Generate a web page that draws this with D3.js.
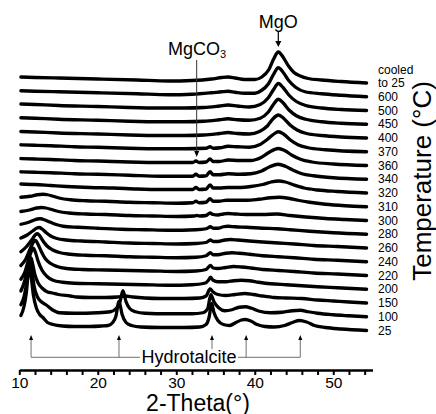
<!DOCTYPE html>
<html>
<head>
<meta charset="utf-8">
<script src="https://cdn.jsdelivr.net/npm/d3@7"></script>
<style>
  html, body { margin: 0; padding: 0; background: #fff; }
  svg { display: block; }
  text { font-family: "Liberation Sans", Arial, Helvetica, sans-serif; fill: #000; }
</style>
</head>
<body>
<svg id="chart" width="436" height="414"></svg>
<script>
// ---------- DATA ----------
// Temperature labels, bottom to top
const tempLabels = ["25","100","150","200","220","240","260","280","300","310","320","340","360","370","400","450","500","600","cooled to 25"];

// Each pattern: [2-theta, intensity above its own baseline (a.u.)]
const t25 = [[10.2,15],[10.6,24],[10.9,38],[11.15,58],[11.3,65.5],[11.5,55],[11.8,35],[12.2,22],[12.6,16],[13.0,13],[13.6,8],[14.3,6],[15.5,4.5],[17,4],[19,4],[20.5,4.5],[21.3,5],[21.9,8],[22.3,14],[22.7,29],[23.1,16],[23.6,8],[24.3,5],[25.5,3.5],[28,3],[31,3],[33,3.5],[33.8,6],[34.2,14],[34.5,27],[34.8,18],[35.3,10],[36.0,6],[36.8,5],[37.6,8],[38.3,10.5],[38.8,11],[39.5,9.5],[40.3,6],[41.3,4],[42.5,3.5],[43.8,5],[44.8,8],[45.7,10],[46.6,8.5],[47.6,5],[49,3],[51,1.5],[54.25,0]];
const t100 = [[10.2,12],[10.6,20],[10.95,35],[11.25,52],[11.4,55],[11.6,46],[11.9,30],[12.3,20],[12.8,15],[13.4,12],[14.2,7],[15.1,4],[17,3.5],[20,4],[21.6,5],[22.3,8],[22.8,14],[23.2,26],[23.6,15],[24.1,8],[24.8,5],[26,3.5],[29,3],[32,3],[33.4,4],[34.0,8],[34.4,22],[34.8,15],[35.4,9],[36.2,6],[37.1,7],[38,9.5],[38.8,10],[39.6,8.5],[40.6,5.5],[42,4],[43.5,4.5],[44.8,6],[45.8,6.5],[46.8,5],[48,3.5],[50,2],[52,1],[54.25,0]];
const t150 = [[10.2,12],[10.6,20],[11.0,32],[11.35,43],[11.5,45],[11.7,39],[12.0,28],[12.4,20],[12.9,15],[13.6,11],[14.2,10],[15,8.5],[16.5,7],[17.3,6],[19,5.5],[21,5.5],[22.5,6],[23.5,7],[24.5,6],[26,5],[28,4.5],[31,4.5],[33,5],[33.8,7],[34.3,14],[34.7,11],[35.3,8.5],[36.3,7.5],[37.5,8.5],[38.7,9.5],[39.8,8.5],[41,7],[42.5,5.5],[44,5],[46,4.5],[48,3],[50,2],[52,1],[54.25,0]];
const t200 = [[10.2,10],[10.7,17],[11.2,30],[11.6,39],[11.8,41],[12.05,37],[12.4,28],[12.9,19],[13.5,13],[14.3,9],[15.5,7],[17,6],[20,5.5],[23,5],[26,4.5],[29,4],[32,4.5],[33.6,6],[34.1,9],[34.35,12],[34.7,9],[35.3,7.5],[36.3,7.5],[37.3,8.5],[38.3,9],[39.3,8.5],[40.5,7],[42,5.5],[44,4.5],[46,3.5],[48,2.5],[50.5,1.5],[54.25,0]];
const t220 = [[10.2,10],[10.8,16],[11.4,27],[11.85,34],[12.1,35],[12.4,31],[12.8,24],[13.3,17],[14,12],[14.8,9],[16,7],[18,6],[21,5.5],[24,5],[27,4.5],[30,4],[32.5,4.5],[33.8,6],[34.35,10],[34.7,7.5],[35.3,7],[36.3,8],[37.3,9],[38.3,8.5],[39.5,7.5],[41,6],[43,5],[45,4],[47.5,2.5],[50.5,1.5],[54.25,0]];
const t240 = [[10.2,10],[10.9,15],[11.6,22],[12.05,27],[12.3,28],[12.6,26],[13.0,21],[13.5,16],[14.2,12],[15,9.5],[16.5,7.5],[18.5,6.5],[21,6],[24,5],[27,4.5],[30,4],[32.5,4.5],[33.8,6],[34.35,9],[34.7,7],[35.3,7],[36.3,8.5],[37.1,9],[38,8.5],[39.3,7.5],[41,6],[43,5],[45,4],[47.5,2.5],[50.5,1.5],[54.25,0]];
const t260 = [[10.2,10],[11,13],[11.7,17],[12.25,20],[12.55,20.5],[12.9,19],[13.4,15.5],[14,12],[14.8,9.5],[16,8],[18,7],[21,6],[24,5],[27,4.5],[30,4],[32.5,4.5],[33.8,5.5],[34.35,8],[34.7,6.5],[35.3,6.5],[36.2,8],[36.9,8.5],[37.8,8],[39.3,7],[41,6],[43,5],[45,4],[47.5,2.5],[50.5,1.5],[54.25,0]];
const t280 = [[10.2,10],[11.2,12],[12,14.5],[12.5,15.5],[12.75,15.5],[13.2,14.5],[13.8,12.5],[14.6,10],[15.6,8],[17.5,7],[20,6],[23,5],[26,4.5],[29,4],[32.5,4.5],[33.8,5.5],[34.35,7.5],[34.7,6],[35.3,6],[36.0,7.5],[36.6,8],[37.5,7.5],[39,7],[41,6],[42.8,5.5],[44.5,4.5],[47,3],[50,1.5],[54.25,0]];
const t300 = [[10.2,9],[11.3,10.5],[12.2,12.5],[12.85,13],[13.4,12.5],[14.1,11],[15,9],[16.3,7.5],[18.5,6.5],[21,6],[24,5],[27,4.5],[30,4],[32.3,4.5],[32.6,5],[33,4.5],[33.8,5],[34.3,7.5],[34.7,6],[35.3,5.5],[36,6.5],[36.6,7],[37.6,6.5],[39.2,6],[41,6],[42.8,6.5],[44.5,5],[46.5,3.5],[49,2],[51.5,1],[54.25,0]];
const t310 = [[10.2,9.5],[11.4,10.5],[12.3,12],[13.0,12.5],[13.6,12],[14.3,10.5],[15.2,8.5],[16.5,7],[18.5,6],[21,5.5],[24,4.5],[27,4],[30,3.5],[32.1,4],[32.5,5.5],[32.9,4],[33.8,4.5],[34.3,8],[34.7,5.5],[35.4,5.5],[36.4,6.5],[37.5,6.5],[39,6.5],[40.5,7.5],[42,9],[43.1,9.5],[44.3,8.5],[45.5,6.5],[47,4.5],[49,2.5],[51.5,1],[54.25,0]];
const t320 = [[10.2,9],[12,8.5],[14,7.5],[16,6.5],[19,5.5],[22,5],[25,4],[28,3.5],[31,3.5],[32.1,3.5],[32.5,5.5],[32.9,3.5],[33.8,4],[34.3,8],[34.7,5],[35.5,5],[36.6,5.5],[38,5.5],[39.5,6.5],[41,8.5],[42.1,11],[43.0,12],[43.9,11],[45,8],[46.3,5],[48,3],[50.5,1.5],[54.25,0]];
const t340 = [[10.2,7.5],[12,7],[14,6.5],[17,5.5],[20,5],[24,4],[28,3],[31,3],[32.1,3],[32.5,5],[32.9,3],[33.8,3.5],[34.3,7.5],[34.7,4.5],[35.5,4.5],[36.6,5.5],[38,5],[39.5,5.5],[40.8,8],[41.9,12.5],[43.0,15],[43.9,13],[44.9,9],[46,5.5],[47.5,3.5],[50,1.5],[54.25,0]];
const t360 = [[10.2,7],[12,6.5],[14,6],[17,5],[20,4.5],[24,3.5],[28,3],[31,3],[32.1,3],[32.5,4.5],[32.9,3],[33.8,3.5],[34.3,6.5],[34.7,4],[35.5,4],[36.6,5.5],[38,5],[39.5,5],[40.8,8],[41.9,13.5],[43.0,17],[43.8,15],[44.8,10],[45.9,6],[47.3,3.5],[50,1.5],[54.25,0]];
const t370 = [[10.2,7],[12,6.5],[14,6],[17,5],[20,4.5],[24,3.5],[28,3],[31,3],[33.8,3.5],[34.3,5],[34.7,3.5],[35.6,4],[36.6,5.5],[37.8,5],[39.3,4.5],[40.6,7],[41.7,13],[42.4,17.5],[43.0,20],[43.7,17.5],[44.5,12],[45.5,7],[46.8,4],[49,2],[54.25,0]];
const t400 = [[10.2,6.5],[12,6],[15,5],[20,4],[24,3],[28,2.5],[31,2.5],[33.5,3],[35.5,4.5],[36.6,5.5],[37.8,4.5],[39.3,4],[40.6,6.5],[41.6,12],[42.3,19],[43.0,23],[43.7,19.5],[44.5,13],[45.4,8],[46.6,4.5],[48.5,2.5],[51,1],[54.25,0]];
const t450 = [[10.2,6.5],[12,6],[15,5],[20,4],[24,3],[28,2.5],[31,2.5],[33.5,3],[35.5,4.5],[36.6,5.5],[37.8,4.5],[39.3,4],[40.7,6],[41.7,12],[42.4,20],[43.0,25],[43.6,21.5],[44.4,14],[45.3,8.5],[46.5,5],[48.5,2.5],[51,1],[54.25,0]];
const t500 = [[10.2,6.5],[12,6],[15,5],[20,4],[24,3],[28,2.5],[31,2.5],[33.5,3],[35.5,4.5],[36.6,5.5],[37.8,4.5],[39.3,3.5],[40.7,6],[41.7,12.5],[42.4,21],[43.0,27],[43.6,23],[44.4,15],[45.3,9],[46.5,5],[48.5,2.5],[51,1],[54.25,0]];
const t600 = [[10.2,6],[12,5.5],[15,5],[20,4],[25,3],[29,2],[32,2.5],[34.5,4],[35.8,5],[36.6,5.5],[37.5,4.5],[38.7,3.5],[40,3.5],[40.8,6],[41.75,13],[42.4,22.5],[43.0,29],[43.6,24.5],[44.35,16],[45.2,9.5],[46.4,5],[48.5,3],[51,1.5],[54.25,0]];
const tCooled = [[10.2,6],[12,5.5],[15,5],[20,4],[25,3],[29,2],[32,2.5],[34.5,4],[35.8,5.5],[36.6,6],[37.5,5],[38.7,3.5],[40,3.5],[40.9,6],[41.8,13.5],[42.4,24],[43.0,31],[43.6,26],[44.3,17],[45.0,10.5],[45.8,7],[46.8,4.5],[48.5,3],[51,1.5],[54.25,0]];

const patterns = [t25,t100,t150,t200,t220,t240,t260,t280,t300,t310,t320,t340,t360,t370,t400,t450,t500,t600,tCooled];

// Axis ticks
const xTickValues = [10,12,14,16,18,20,22,24,26,28,30,32,34,36,38,40,42,44,46,48,50,52,54];
const xTickLabels = [10,20,30,40,50];

// Reflection positions (2-theta)
const hydrotalcitePeaks = [11.5, 22.7, 34.55, 38.9, 45.8];
const mgoPeak = 43.0;
const mgco3Peak = 32.6;

// ---------- DRAWING ----------
const svg = d3.select("#chart");
const x = d3.scaleLinear().domain([10, 55]).range([19.3, 372.5]);
const y = d3.scaleLinear().domain([0, 300]).range([330.5, 30.5]);
const STEP = 13.75; // vertical offset between stacked patterns (a.u.)

const gLines = svg.append("g");
patterns.forEach((p, k) => {
  const line = d3.line()
    .x(d => x(d[0]))
    .y(d => y(d[1] + k * STEP))
    .curve(d3.curveMonotoneX);
  gLines.append("path")
    .attr("d", line(p))
    .attr("fill", "none")
    .attr("stroke", "#000")
    .attr("stroke-width", 3.3)
    .attr("stroke-linejoin", "round")
    .attr("stroke-linecap", "round");
});

// Temperature labels at right
const gLab = svg.append("g").attr("font-size", 12);
tempLabels.forEach((lab, k) => {
  const yy = y(k * STEP);
  if (lab === "cooled to 25") {
    gLab.append("text").attr("x", 378).attr("y", yy - 13).attr("dy", "0.35em").text("cooled");
    gLab.append("text").attr("x", 378).attr("y", yy).attr("dy", "0.35em").text("to 25");
  } else {
    gLab.append("text").attr("x", 378).attr("y", yy).attr("dy", "0.35em").text(lab);
  }
});

// Y title
svg.append("text")
  .attr("transform", "translate(431,181) rotate(-90)")
  .attr("text-anchor", "middle")
  .attr("font-size", 26)
  .text("Temperature (°C)");

// X axis
const axis = d3.axisBottom(x)
  .tickValues(xTickValues)
  .tickSize(5)
  .tickSizeOuter(0)
  .tickPadding(2)
  .tickFormat(d => xTickLabels.includes(d) ? d : "");
const gAx = svg.append("g").attr("transform", "translate(0,370)").call(axis);
gAx.select(".domain").attr("stroke", "#000").attr("stroke-width", 2.5);
gAx.selectAll(".tick line").attr("stroke", "#000").attr("stroke-width", 2);
gAx.selectAll(".tick text").attr("font-size", 15.5).attr("font-family", "Liberation Sans, Arial, sans-serif").attr("fill", "#000");

svg.append("text")
  .attr("x", 198).attr("y", 410.5)
  .attr("text-anchor", "middle")
  .attr("font-size", 23)
  .text("2-Theta(°)");

// Annotations
function arrowHead(cx, tipY, dir, hw, h) {
  // dir = 1 pointing down, -1 pointing up
  const by = tipY - dir * h;
  return `M${cx},${tipY}L${cx - hw},${by}L${cx + hw},${by}Z`;
}

// MgO
const xm = x(mgoPeak);
svg.append("text").attr("x", xm).attr("y", 28).attr("text-anchor", "middle").attr("font-size", 18).text("MgO");
svg.append("line").attr("x1", xm).attr("x2", xm).attr("y1", 31).attr("y2", 42).attr("stroke", "#000").attr("stroke-width", 1.2);
svg.append("path").attr("d", arrowHead(xm, 47, 1, 3, 6)).attr("fill", "#000");

// MgCO3
const xc = x(mgco3Peak);
const tC = svg.append("text").attr("x", 168).attr("y", 55).attr("font-size", 18);
tC.append("tspan").text("MgCO");
tC.append("tspan").attr("font-size", 11).attr("dy", 3).text("3");
svg.append("line").attr("x1", xc).attr("x2", xc).attr("y1", 60).attr("y2", 152).attr("stroke", "#333").attr("stroke-width", 1);
svg.append("path").attr("d", arrowHead(xc, 157, 1, 2.5, 6)).attr("fill", "#000");

// Hydrotalcite
const hy = 357.3, tipY = 335;
const hx = hydrotalcitePeaks.map(v => x(v));
const gray = "#707070";
svg.append("line").attr("x1", hx[0]).attr("x2", 140).attr("y1", hy).attr("y2", hy).attr("stroke", gray).attr("stroke-width", 1);
svg.append("line").attr("x1", 238).attr("x2", hx[4]).attr("y1", hy).attr("y2", hy).attr("stroke", gray).attr("stroke-width", 1);
hx.forEach((xx, i) => {
  const y2 = (i === 2) ? 349 : hy;
  svg.append("line").attr("x1", xx).attr("x2", xx).attr("y1", tipY + 4).attr("y2", y2).attr("stroke", gray).attr("stroke-width", 1);
  svg.append("path").attr("d", arrowHead(xx, tipY, -1, 2, 5)).attr("fill", "#000");
});
svg.append("text").attr("x", 189).attr("y", 363).attr("text-anchor", "middle").attr("font-size", 18).text("Hydrotalcite");
</script>
</body>
</html>
